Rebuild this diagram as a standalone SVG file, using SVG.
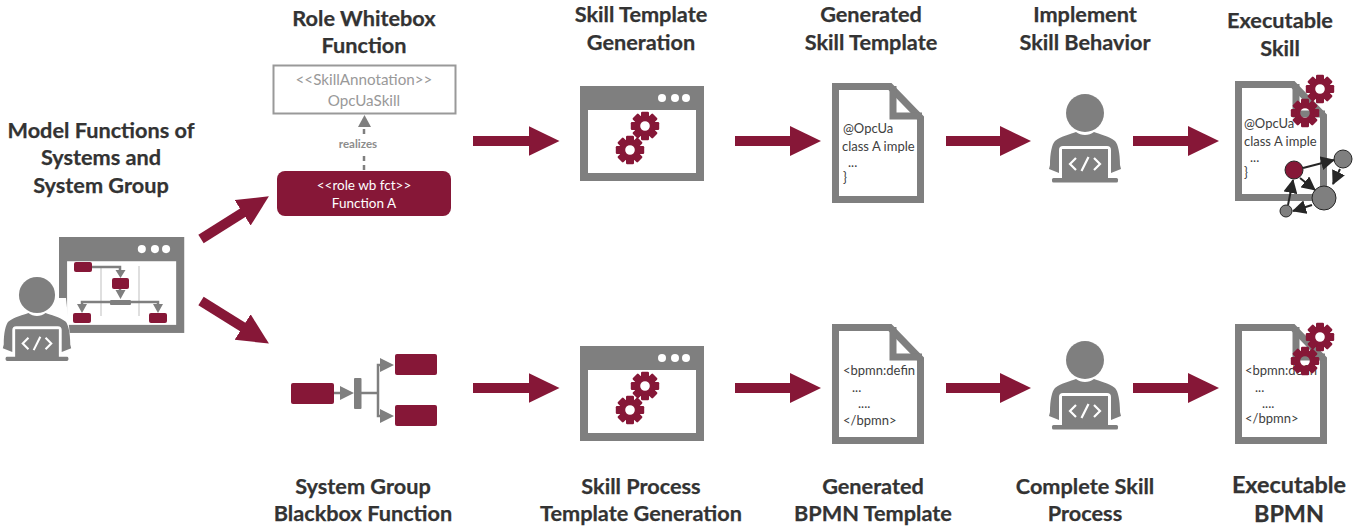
<svg xmlns="http://www.w3.org/2000/svg" xmlns:xlink="http://www.w3.org/1999/xlink" width="1369" height="529" viewBox="0 0 1369 529">
<style>
text{font-family:Lato,"Liberation Sans",sans-serif}
.t{font-size:21.7px;font-weight:700;fill:#333;stroke:#333;stroke-width:.25;text-anchor:middle}
.d{font-size:13px;fill:#404040}
.m{fill:#861737}
.g{fill:#7f7f7f}
.flow{stroke:#861737;stroke-width:10;fill:none;marker-end:url(#big)}
.mini{stroke:#7f7f7f;stroke-width:2.500;fill:none}
.net{stroke:#262626;stroke-width:2;fill:none;marker-end:url(#blk)}
.node{stroke:#262626;stroke-width:1;fill:#7f7f7f}
</style>
<defs>
<marker id="big" markerUnits="userSpaceOnUse" markerWidth="33" markerHeight="32" refX="1" refY="15.500" orient="auto"><path d="M0 .5L31 15.500L0 30.500Z" fill="#861737"/></marker>
<marker id="blk" markerUnits="userSpaceOnUse" markerWidth="15" markerHeight="14" refX="13" refY="7" orient="auto"><path d="M0 0L14 7L0 14Z" fill="#262626"/></marker>
<g id="gear"><circle r="7.800" fill="none" stroke="#861737" stroke-width="6"/><g class="m"><rect x="-4" y="-14.200" width="8" height="6" rx="1.200"/><rect x="-4" y="-14.200" width="8" height="6" rx="1.200" transform="rotate(45)"/><rect x="-4" y="-14.200" width="8" height="6" rx="1.200" transform="rotate(90)"/><rect x="-4" y="-14.200" width="8" height="6" rx="1.200" transform="rotate(135)"/><rect x="-4" y="-14.200" width="8" height="6" rx="1.200" transform="rotate(180)"/><rect x="-4" y="-14.200" width="8" height="6" rx="1.200" transform="rotate(225)"/><rect x="-4" y="-14.200" width="8" height="6" rx="1.200" transform="rotate(270)"/><rect x="-4" y="-14.200" width="8" height="6" rx="1.200" transform="rotate(315)"/></g></g>
<g id="person"><circle cx="0" cy="0" r="19" class="g"/><path class="g" d="M-35 52C-35 40-33 31-30 28C-24 23-14 21-9 19C-4 23 4 23 9 19C14 21 24 23 30 28C33 31 35 40 35 52L36 56L26 60V37Q26 33 22 33H-22Q-26 33-26 37V60L-36 56Z"/><rect x="-23" y="36" width="46" height="30" class="g"/><rect x="-33" y="65" width="66" height="4.500" rx="1.500" class="g"/><path d="M-9 45L-15 51L-9 57M9 45L15 51L9 57M-3.500 58L3.500 44" fill="none" stroke="#fff" stroke-width="2.200"/></g>
<g id="win"><rect x="0" y="0" width="124" height="95" class="g"/><rect x="8" y="24" width="108" height="63" fill="#fff"/><circle cx="82" cy="12" r="4" fill="#fff"/><circle cx="95" cy="12" r="4" fill="#fff"/><circle cx="106" cy="12" r="4" fill="#fff"/></g>
<g id="doc"><path d="M3.500 3.500H58L88.500 35V116.500H3.500Z" fill="#fff" stroke="#7f7f7f" stroke-width="7"/><path d="M61 3V33H90" fill="none" stroke="#7f7f7f" stroke-width="7"/></g>
</defs>

<g id="connectors">
<path class="flow" d="M473 141H529.500"/><path class="flow" d="M735 141H791"/><path class="flow" d="M946 141H1001"/><path class="flow" d="M1133 141H1189"/>
<path class="flow" d="M473 388H529.500"/><path class="flow" d="M735 388H791"/><path class="flow" d="M946 388H1001"/><path class="flow" d="M1133 388H1189"/>
<path class="flow" d="M201 239L243.500 212.300"/><path class="flow" d="M201 301L243.500 327.600"/>
</g>

<g id="node-modeler">
<use xlink:href="#win" href="#win" transform="translate(59,237) scale(1.010)"/>
<g id="mini-diagram">
<path d="M101 266V316M139 266V316" stroke="#bfbfbf" stroke-width="1"/>
<path class="mini" d="M92 267H120V272M120 289V294M110 302H82V306M131 302H158V306"/>
<path class="g" d="M115.500 270H125.500L120.500 278ZM115.500 290H125.500L120.500 299ZM77 304H87L82 313ZM153 304H163L158 313Z"/>
<rect x="74" y="262" width="18" height="10" rx="2" class="m"/><rect x="112" y="278" width="17" height="11" rx="2" class="m"/><rect x="73" y="313" width="18" height="10" rx="2" class="m"/><rect x="149" y="313" width="18" height="10" rx="2" class="m"/><rect x="110" y="300" width="21" height="5" rx="1" class="g"/>
</g>
<path d="M7 355V298H66L72 355Z" fill="#fff"/>
<use xlink:href="#person" href="#person" transform="translate(37,295) scale(.95)"/>
<text class="t" x="101" y="138">Model Functions of</text><text class="t" x="101" y="165">Systems and</text><text class="t" x="101" y="193">System Group</text>
</g>

<g id="node-role-whitebox">
<text class="t" x="364" y="26">Role Whitebox</text><text class="t" x="364" y="53">Function</text>
<rect x="273.500" y="65.500" width="182" height="48" fill="#fff" stroke="#999" stroke-width="2"/>
<text x="364" y="85" font-size="15.200" fill="#999" text-anchor="middle">&lt;&lt;SkillAnnotation&gt;&gt;</text>
<text x="364" y="106" font-size="15.200" fill="#999" text-anchor="middle">OpcUaSkill</text>
<path d="M364 129V171" stroke="#7f7f7f" stroke-width="2.500" stroke-dasharray="5 4" fill="none"/>
<path class="g" d="M358 127L364.500 115L371 127Z"/>
<rect x="335" y="137" width="58" height="18" fill="#fff"/>
<text x="358" y="148" font-size="11.500" font-weight="700" fill="#8c8c8c" text-anchor="middle">realizes</text>
<rect x="277" y="171" width="174" height="45" rx="8" class="m"/>
<text x="364" y="190" font-size="13.500" fill="#fff" text-anchor="middle">&lt;&lt;role wb fct&gt;&gt;</text>
<text x="364" y="208" font-size="13.500" fill="#fff" text-anchor="middle">Function A</text>
</g>

<g id="node-blackbox">
<rect x="291" y="383" width="43" height="21" rx="2" class="m"/>
<path d="M334 393H342M361 393H378M388 365H378V416H388" stroke="#7f7f7f" stroke-width="2.500" fill="none"/>
<path class="g" d="M340 386L354 393L340 400ZM380 358L394 365L380 372ZM380 409L394 416L380 423Z"/>
<rect x="354" y="378" width="7.500" height="31" rx="1" class="g"/>
<rect x="395" y="354" width="42" height="21" rx="2" class="m"/><rect x="395" y="405" width="42" height="21" rx="2" class="m"/>
<text class="t" x="363" y="494">System Group</text><text class="t" x="363" y="521">Blackbox Function</text>
</g>

<g id="node-skill-template-gen">
<text class="t" x="641" y="22">Skill Template</text><text class="t" x="641" y="50">Generation</text>
<use xlink:href="#win" href="#win" x="580" y="86"/>
<use xlink:href="#gear" href="#gear" x="645" y="126"/><use xlink:href="#gear" href="#gear" x="630" y="150"/>
</g>
<g id="node-generated-template">
<text class="t" x="871" y="22">Generated</text><text class="t" x="871" y="50">Skill Template</text>
<use xlink:href="#doc" href="#doc" transform="translate(832,83)"/>
<text class="d" x="843" y="133">@OpcUa</text><text class="d" x="842" y="151">class A imple</text><text class="d" x="848" y="167">...</text><text class="d" x="843" y="182">}</text>
</g>
<g id="node-implement">
<text class="t" x="1085" y="22">Implement</text><text class="t" x="1085" y="50">Skill Behavior</text>
<use xlink:href="#person" href="#person" x="1085" y="113"/>
</g>
<g id="node-executable-skill">
<text class="t" x="1280" y="28">Executable</text><text class="t" x="1280" y="56">Skill</text>
<use xlink:href="#doc" href="#doc" transform="translate(1235,81)"/>
<text class="d" x="1244" y="128">@OpcUa</text><text class="d" x="1244" y="146">class A imple</text><text class="d" x="1250" y="162">...</text><text class="d" x="1244" y="177">}</text>
<use xlink:href="#gear" href="#gear" x="1320" y="89"/><use xlink:href="#gear" href="#gear" x="1305" y="113"/>
<circle cx="1294" cy="170" r="9" fill="#861737" stroke="#262626"/><circle class="node" cx="1343" cy="159" r="9"/><circle class="node" cx="1324" cy="198" r="12"/><circle class="node" cx="1286" cy="211" r="6"/>
<path class="net" d="M1303 168L1334 160"/><path class="net" d="M1340 169L1333 184"/><path class="net" d="M1300 178L1315 190"/><path class="net" d="M1312 205L1293 211"/><path class="net" d="M1288 205L1293 180"/>
</g>

<g id="node-process-gen">
<use xlink:href="#win" href="#win" x="580" y="346"/>
<use xlink:href="#gear" href="#gear" x="645" y="386"/><use xlink:href="#gear" href="#gear" x="630" y="410"/>
<text class="t" x="641" y="494">Skill Process</text><text class="t" x="641" y="521">Template Generation</text>
</g>
<g id="node-bpmn-template">
<use xlink:href="#doc" href="#doc" transform="translate(832,324)"/>
<text class="d" x="843" y="375">&lt;bpmn:defin</text><text class="d" x="852" y="392">...</text><text class="d" x="858" y="408">....</text><text class="d" x="843" y="425">&lt;/bpmn&gt;</text>
<text class="t" x="873" y="494">Generated</text><text class="t" x="873" y="521">BPMN Template</text>
</g>
<g id="node-complete">
<use xlink:href="#person" href="#person" x="1085" y="360"/>
<text class="t" x="1085" y="494">Complete Skill</text><text class="t" x="1085" y="521">Process</text>
</g>
<g id="node-executable-bpmn">
<use xlink:href="#doc" href="#doc" transform="translate(1235,324)"/>
<text class="d" x="1245" y="375">&lt;bpmn:defin</text><text class="d" x="1255" y="392">...</text><text class="d" x="1262" y="408">....</text><text class="d" x="1245" y="423">&lt;/bpmn&gt;</text>
<use xlink:href="#gear" href="#gear" x="1320" y="337"/><use xlink:href="#gear" href="#gear" x="1305" y="361"/>
<text class="t" x="1289" y="493" style="font-size:23.400px">Executable</text><text class="t" x="1289" y="522" style="font-size:23.400px">BPMN</text>
</g>
</svg>
